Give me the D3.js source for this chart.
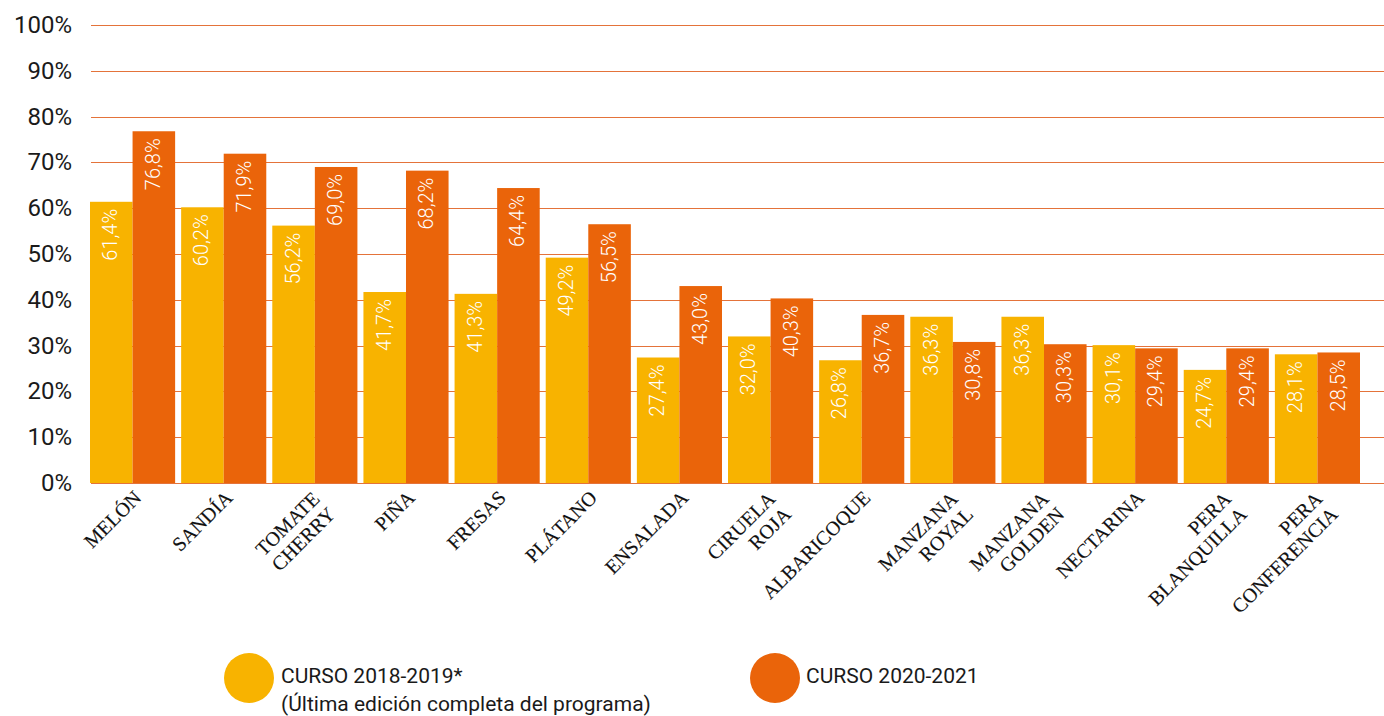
<!DOCTYPE html>
<html>
<head>
<meta charset="utf-8">
<script src="https://cdn.jsdelivr.net/npm/d3@7"></script>
<style>
  body { margin: 0; background: #fff; }
  svg { display: block; }
</style>
</head>
<body>
<div id="chart"></div>
<script>
(function() {
  // Data
  const categories = [
    ["MELÓN"], ["SANDÍA"], ["TOMATE", "CHERRY"], ["PIÑA"], ["FRESAS"], ["PLÁTANO"],
    ["ENSALADA"], ["CIRUELA", "ROJA"], ["ALBARICOQUE"], ["MANZANA", "ROYAL"],
    ["MANZANA", "GOLDEN"], ["NECTARINA"], ["PERA", "BLANQUILLA"], ["PERA", "CONFERENCIA"]
  ];
  const curso1819 = [61.4, 60.2, 56.2, 41.7, 41.3, 49.2, 27.4, 32.0, 26.8, 36.3, 36.3, 30.1, 24.7, 28.1];
  const curso2021 = [76.8, 71.9, 69.0, 68.2, 64.4, 56.5, 43.0, 40.3, 36.7, 30.8, 30.3, 29.4, 29.4, 28.5];
  const seriesNames = ["CURSO 2018-2019*", "CURSO 2020-2021"];
  const yTicks = [0, 10, 20, 30, 40, 50, 60, 70, 80, 90, 100];

  const width = 1384, height = 716;
  const yellow = "#F8B300", orange = "#EA640A", gridColor = "#E4733A";
  const numFont = "Roboto, 'Noto Sans', sans-serif";

  const svg = d3.select("#chart").append("svg")
    .attr("width", width)
    .attr("height", height);

  const keys = categories.map((d, i) => i);
  const x = d3.scaleBand()
    .domain(keys)
    .range([90, 1360])
    .paddingInner(0.066)
    .paddingOuter(0);
  const xs = d3.scaleBand()
    .domain([0, 1])
    .range([0, x.bandwidth()]);
  const y = d3.scaleLinear().domain([0, 100]).range([483, 25]);

  // Gridlines
  svg.append("g")
    .selectAll("line")
    .data(yTicks)
    .join("line")
    .attr("x1", 91)
    .attr("x2", width)
    .attr("y1", d => Math.round(y(d)) + 0.5)
    .attr("y2", d => Math.round(y(d)) + 0.5)
    .attr("stroke", gridColor)
    .attr("stroke-width", 1);

  // Y tick labels
  svg.append("g")
    .selectAll("text")
    .data(yTicks)
    .join("text")
    .attr("x", 72)
    .attr("y", d => y(d))
    .attr("dy", "0.33em")
    .attr("text-anchor", "end")
    .style("font-family", numFont)
    .style("font-size", "24px")
    .style("fill", "#1a1a1a")
    .text(d => d + "%");

  const series = [curso1819, curso2021];
  const colors = [yellow, orange];
  const fmt = v => v.toFixed(1).replace(".", ",") + "%";

  series.forEach((vals, s) => {
    const g = svg.append("g");
    g.selectAll("rect")
      .data(vals)
      .join("rect")
      .attr("x", (d, i) => x(i) + xs(s))
      .attr("y", d => y(d))
      .attr("width", xs.bandwidth())
      .attr("height", d => y(0) - y(d))
      .attr("fill", colors[s]);

    g.selectAll("text")
      .data(vals)
      .join("text")
      .attr("transform", (d, i) =>
        `translate(${x(i) + xs(s) + xs.bandwidth() / 2},${y(d) + 7}) rotate(-90)`)
      .attr("text-anchor", "end")
      .attr("dy", "0.3em")
      .style("font-family", numFont)
      .style("font-size", "20px")
      .style("font-weight", 300)
      .style("fill", "#fff")
      .text(d => fmt(d));
  });

  // X labels
  const lh = 22;
  const xl = svg.append("g")
    .selectAll("text")
    .data(categories)
    .join("text")
    .attr("transform", (d, i) => {
      const cx = x(i) + x.bandwidth() / 2;
      return d.length > 1
        ? `translate(${cx + 6},${500}) rotate(-45)`
        : `translate(${cx + 10},${499}) rotate(-45)`;
    })
    .attr("text-anchor", "end")
    .style("font-family", "'Liberation Serif', 'DejaVu Serif', serif")
    .style("font-size", "20px")
    .style("fill", "#111")
    .style("stroke", "#111")
    .style("stroke-width", 0.15);
  xl.selectAll("tspan")
    .data(d => d)
    .join("tspan")
    .attr("x", 0)
    .attr("dy", (d, j) => j === 0 ? 0 : lh)
    .text(d => d);

  // Legend
  const legend = svg.append("g");
  const legendItems = [
    { cx: 249, color: yellow, lines: [seriesNames[0], "(Última edición completa del programa)"], tx: 281 },
    { cx: 775, color: orange, lines: [seriesNames[1]], tx: 806 }
  ];
  legendItems.forEach(item => {
    legend.append("circle")
      .attr("cx", item.cx)
      .attr("cy", 678)
      .attr("r", 25)
      .attr("fill", item.color);
    const t = legend.append("text")
      .attr("x", item.tx)
      .attr("y", 683)
      .style("font-family", numFont)
      .style("font-size", "21px")
      .style("fill", "#1a1a1a");
    t.selectAll("tspan")
      .data(item.lines)
      .join("tspan")
      .attr("x", item.tx)
      .attr("dy", (d, j) => j === 0 ? 0 : 28)
      .text(d => d);
  });
})();
</script>
</body>
</html>
